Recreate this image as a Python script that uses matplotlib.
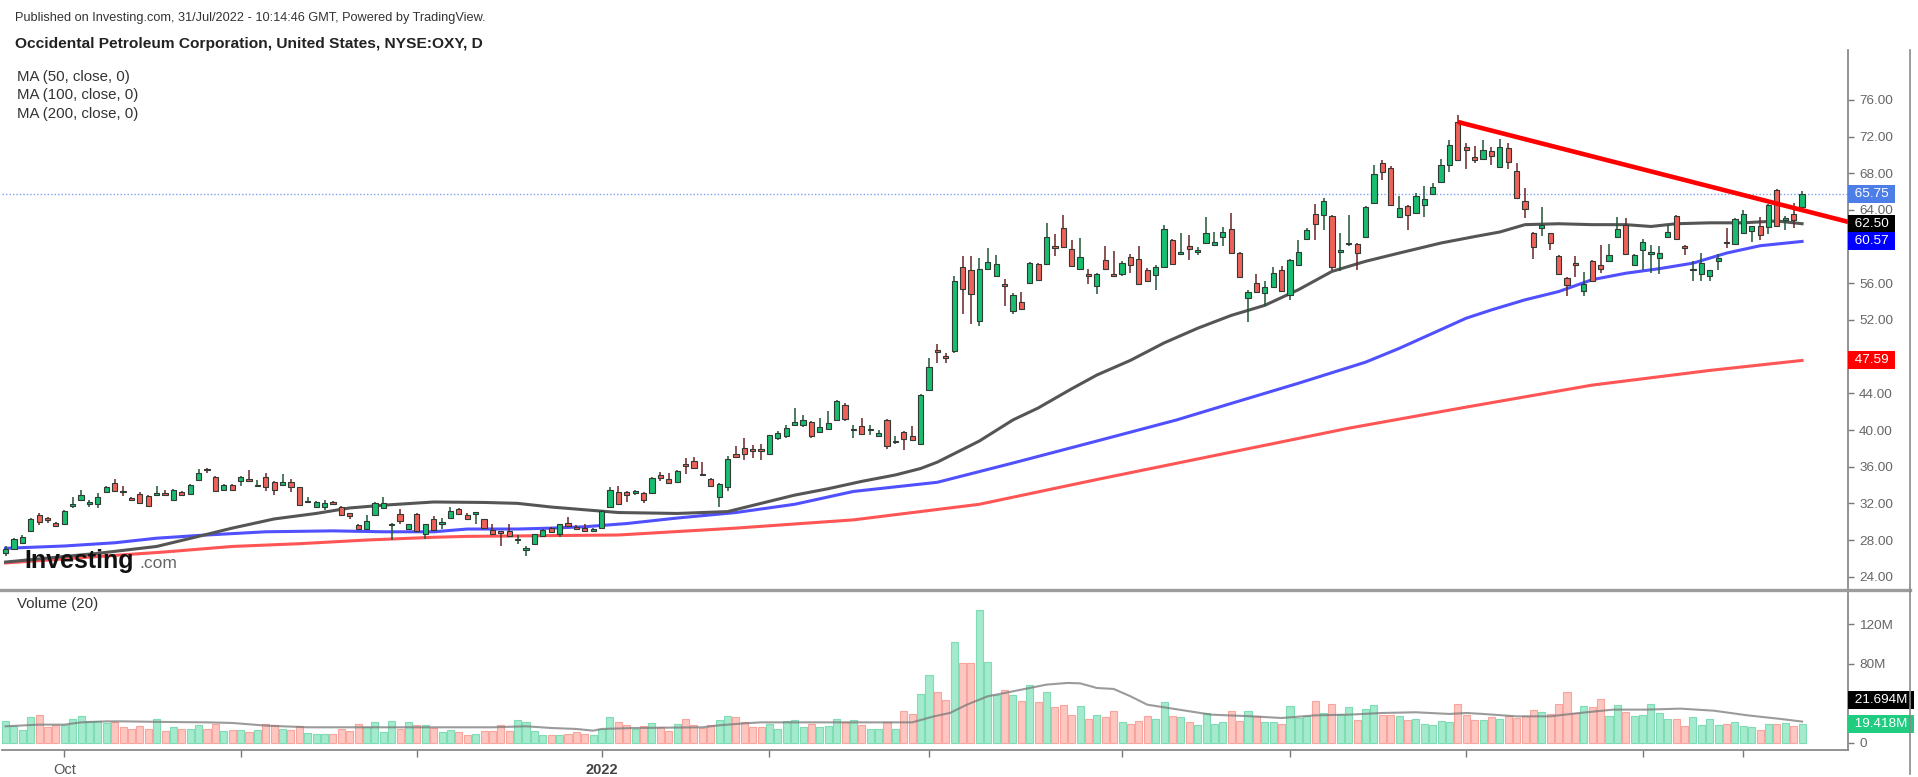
import matplotlib
matplotlib.use("Agg")
import matplotlib.pyplot as plt
from matplotlib.lines import Line2D
import matplotlib.transforms as mtransforms
import numpy as np
import pandas as pd

plt.rcParams["font.family"] = ["Liberation Sans", "DejaVu Sans"]

# ---------------- data ----------------
HOLIDAYS = ["2021-11-25", "2021-12-24", "2022-01-17", "2022-02-21",
            "2022-04-15", "2022-05-30", "2022-06-20", "2022-07-04"]
dates = pd.bdate_range("2021-09-22", "2022-07-29", freq="C", holidays=HOLIDAYS)

opens = [
    26.6, 27.0, 27.7, 29.0, 30.7, 30.3, 29.9, 29.8, 31.7, 32.4,
    31.95, 31.9, 33.2, 34.26, 33.35, 32.5, 33.0, 32.8, 32.95, 33.05,
    32.4, 33.2, 33.0, 34.6, 35.7, 34.9, 33.5, 34.0, 34.4, 34.55,
    33.85, 34.9, 34.3, 34.0, 34.3, 33.75, 32.1, 31.6, 31.6, 32.1,
    31.6, 30.9, 29.6, 29.2, 30.7, 31.5, 29.6, 30.8, 29.2, 30.8,
    28.7, 30.3, 29.75, 30.4, 31.35, 30.7, 30.85, 30.26, 29.1, 28.85,
    29.0, 27.95, 26.95, 27.6, 28.4, 29.3, 28.65, 29.9, 29.35, 29.3,
    28.95, 29.3, 31.6, 33.27, 33.27, 33.15, 33.1, 33.1, 35.05, 34.7,
    34.36, 36.15, 36.65, 35.15, 34.7, 32.7, 33.8, 37.4, 38.07, 37.8,
    37.85, 37.4, 39.1, 39.3, 40.5, 40.5, 40.9, 39.8, 40.1, 41.1,
    42.7, 39.95, 40.47, 39.95, 39.3, 41.1, 38.65, 39.8, 39.3, 38.5,
    44.4, 48.65, 47.95, 48.6, 57.8, 57.5, 51.9, 57.6, 56.8, 55.85,
    53.0, 53.96, 56.0, 58.1, 58.1, 60.1, 62.07, 59.7, 57.6, 56.95,
    55.75, 58.5, 56.95, 57.0, 58.9, 58.6, 57.5, 56.9, 57.8, 60.7,
    59.25, 60.1, 59.4, 60.4, 60.2, 61.0, 61.9, 59.3, 54.4, 56.0,
    54.9, 55.6, 57.4, 54.7, 58.0, 60.8, 63.6, 63.5, 63.3, 59.45,
    60.25, 60.3, 61.0, 64.8, 69.1, 68.6, 63.2, 64.4, 63.7, 64.5,
    65.7, 67.1, 68.9, 73.6, 70.9, 69.8, 69.6, 70.4, 68.7, 70.8,
    68.3, 65.0, 61.5, 62.0, 61.45, 59.0, 56.6, 58.15, 55.2, 58.4,
    58.0, 58.4, 61.1, 62.4, 58.0, 59.6, 59.25, 58.8, 61.0, 63.3,
    59.95, 57.4, 57.0, 56.8, 58.4, 60.45, 60.3, 61.5, 61.7, 62.2,
    62.1, 66.2, 62.95, 63.6, 64.3]
highs = [
    27.3, 28.2, 28.6, 30.4, 31.0, 30.5, 30.0, 31.3, 32.66, 33.5,
    32.4, 33.1, 33.9, 34.7, 33.9, 32.7, 33.2, 32.9, 33.9, 33.5,
    33.6, 33.4, 34.1, 35.7, 35.9, 35.0, 34.1, 34.1, 35.0, 35.6,
    34.5, 35.3, 34.4, 35.2, 34.7, 33.8, 32.7, 32.3, 32.4, 32.3,
    31.7, 31.0, 29.7, 30.7, 32.1, 32.7, 29.9, 31.4, 29.8, 30.9,
    29.8, 30.6, 30.45, 31.6, 31.5, 31.0, 31.0, 30.3, 29.8, 28.9,
    29.8, 28.55, 27.35, 28.7, 29.2, 29.4, 29.8, 30.5, 29.6, 29.8,
    29.3, 31.3, 33.8, 33.9, 33.4, 33.5, 33.2, 34.9, 35.4, 35.3,
    35.6, 36.9, 37.1, 36.5, 34.8, 34.2, 37.2, 38.3, 39.1, 38.4,
    38.5, 39.5, 39.9, 40.6, 42.4, 41.6, 41.0, 41.3, 42.1, 43.3,
    42.9, 40.5, 41.3, 40.6, 40.0, 41.2, 39.4, 39.9, 40.4, 43.9,
    47.9, 49.4, 48.4, 56.8, 59.0, 59.0, 58.8, 59.8, 59.1, 56.5,
    54.9, 55.1, 58.3, 58.2, 62.6, 61.4, 63.5, 60.7, 60.9, 57.6,
    57.1, 60.1, 59.5, 58.4, 59.2, 60.1, 57.7, 58.0, 62.4, 60.8,
    61.5, 61.3, 60.0, 63.2, 61.6, 62.1, 63.7, 59.4, 55.3, 57.0,
    56.3, 57.8, 57.9, 58.6, 60.7, 62.0, 64.7, 65.3, 63.5, 61.5,
    63.5, 60.4, 64.4, 68.9, 69.4, 68.8, 65.5, 64.5, 65.8, 66.6,
    66.9, 69.6, 71.6, 74.4, 71.3, 71.0, 71.6, 70.9, 71.7, 71.3,
    69.1, 66.4, 61.6, 64.3, 61.5, 59.1, 56.7, 59.0, 57.2, 58.5,
    60.2, 60.3, 63.2, 63.1, 59.2, 60.8, 60.2, 60.1, 62.4, 63.4,
    60.2, 58.4, 59.3, 57.5, 59.2, 62.0, 63.1, 64.0, 62.3, 63.2,
    64.7, 66.3, 63.3, 64.8, 66.1]
lows = [
    26.3, 26.9, 27.6, 28.9, 29.6, 29.9, 29.4, 29.7, 31.5, 32.3,
    31.6, 31.46, 33.1, 33.3, 32.8, 32.3, 31.9, 31.7, 32.8, 32.9,
    32.3, 32.8, 32.9, 34.5, 35.35, 33.3, 33.4, 33.3, 33.9, 34.4,
    33.8, 33.4, 32.9, 33.9, 33.2, 31.8, 32.0, 31.5, 31.3, 31.8,
    30.6, 30.25, 29.1, 29.1, 30.6, 31.4, 28.0, 29.8, 29.1, 28.9,
    28.1, 29.0, 29.2, 30.3, 30.7, 30.2, 29.8, 29.2, 28.6, 27.35,
    28.3, 27.6, 26.3, 27.5, 28.3, 28.8, 28.3, 29.4, 29.1, 28.9,
    28.9, 29.2, 31.5, 31.8, 32.2, 32.9, 32.0, 33.0, 34.4, 34.1,
    34.3, 35.2, 35.8, 35.0, 33.8, 31.6, 33.4, 37.0, 36.7, 36.9,
    36.7, 37.3, 38.9, 39.1, 40.4, 40.3, 39.1, 39.7, 40.0, 41.0,
    41.0, 39.1, 39.5, 39.5, 39.2, 37.9, 38.5, 37.8, 38.8, 38.4,
    44.3, 47.3, 47.3, 48.4, 52.7, 51.6, 51.3, 57.4, 56.7, 53.5,
    52.6, 53.1, 55.9, 56.3, 58.0, 59.0, 59.9, 57.8, 57.5, 55.9,
    54.8, 57.5, 56.7, 56.8, 57.1, 55.8, 56.2, 55.3, 57.7, 58.0,
    59.2, 58.5, 59.1, 60.3, 60.1, 60.1, 59.2, 56.6, 51.8, 54.9,
    53.5, 55.5, 55.1, 54.2, 57.9, 60.7, 60.7, 61.8, 57.4, 57.3,
    60.1, 57.5, 60.9, 64.7, 67.3, 64.4, 63.1, 61.8, 63.6, 63.2,
    65.6, 67.0, 68.1, 69.3, 68.5, 69.1, 69.5, 68.9, 68.6, 68.5,
    65.2, 63.1, 58.7, 61.2, 59.6, 56.9, 54.6, 56.65, 54.6, 56.1,
    57.1, 58.3, 61.0, 59.1, 57.9, 57.4, 57.1, 57.0, 60.9, 60.7,
    59.1, 56.3, 56.2, 56.2, 57.4, 59.8, 60.2, 61.4, 60.5, 60.7,
    61.4, 62.1, 61.8, 62.0, 64.2]
closes = [
    27.0, 28.1, 28.3, 30.3, 30.0, 30.2, 29.55, 31.2, 31.9, 32.9,
    32.05, 32.7, 33.75, 33.4, 33.2, 32.4, 32.0, 31.75, 33.05, 32.95,
    33.5, 32.9, 33.97, 35.35, 35.6, 33.4, 34.0, 33.5, 34.9, 34.45,
    33.95, 33.75, 33.5, 34.3, 33.8, 31.86, 32.25, 32.2, 32.0, 31.9,
    30.7, 30.6, 29.2, 30.1, 32.0, 32.0, 29.75, 30.1, 29.7, 29.0,
    29.7, 29.1, 29.85, 31.2, 30.8, 30.26, 30.95, 29.3, 28.7, 28.75,
    28.4, 28.05, 27.05, 28.65, 29.1, 28.9, 29.7, 29.5, 29.25, 29.0,
    29.05, 31.2, 33.45, 31.92, 32.9, 33.25, 32.4, 34.8, 34.8, 34.25,
    35.56, 36.05, 35.9, 35.05, 33.9, 34.07, 36.8, 37.1, 37.4, 37.7,
    37.75, 39.45, 39.7, 40.2, 40.9, 41.1, 39.3, 40.36, 40.8, 43.2,
    41.2, 40.05, 39.6, 40.05, 39.7, 38.3, 38.75, 39.0, 38.9, 43.8,
    46.9, 48.55, 47.85, 56.3, 55.4, 54.8, 57.6, 58.3, 58.1, 55.75,
    54.7, 53.2, 58.2, 56.4, 61.1, 59.9, 60.0, 57.9, 58.9, 56.85,
    57.0, 57.6, 56.85, 58.2, 58.0, 55.9, 56.3, 57.8, 61.96, 58.1,
    59.35, 59.7, 59.5, 61.5, 60.5, 61.6, 59.3, 56.7, 55.1, 55.0,
    55.6, 57.1, 55.2, 58.5, 59.4, 61.8, 62.5, 65.0, 57.8, 59.55,
    60.35, 59.3, 64.3, 67.9, 68.1, 64.5, 64.2, 63.5, 65.5, 65.2,
    66.5, 68.9, 71.1, 69.45, 70.5, 69.45, 70.5, 69.9, 70.9, 69.2,
    65.3, 64.1, 60.0, 62.4, 60.4, 57.0, 55.8, 58.05, 55.9, 56.2,
    57.6, 59.1, 61.9, 59.2, 59.1, 60.5, 59.35, 59.35, 61.6, 60.8,
    59.85, 57.5, 58.2, 57.4, 58.8, 60.35, 63.0, 63.6, 62.2, 61.3,
    64.5, 62.2, 63.05, 62.9, 65.75]
volume_m = [
    22.6, 16.9, 13.5, 26.0, 28.7, 15.9, 18.6, 17.9, 24.6, 27.0,
    22.6, 22.6, 20.3, 20.9, 15.9, 14.2, 16.9, 14.5, 24.6, 12.5,
    15.9, 14.5, 14.5, 17.9, 14.5, 19.6, 11.8, 13.5, 12.8, 10.8,
    13.2, 19.6, 17.9, 14.5, 13.2, 16.9, 10.5, 9.1, 9.1, 9.1,
    14.5, 11.8, 19.6, 15.9, 20.9, 10.8, 22.6, 14.5, 20.9, 17.9,
    17.9, 15.2, 10.8, 12.8, 10.8, 7.8, 9.1, 11.8, 12.5, 18.6,
    11.8, 23.6, 20.9, 11.8, 7.8, 7.8, 7.8, 9.1, 10.8, 9.5,
    7.8, 14.2, 26.0, 20.9, 18.6, 14.5, 16.9, 20.3, 15.9, 12.5,
    19.2, 24.6, 18.6, 15.2, 17.9, 23.6, 27.0, 26.0, 20.9, 15.9,
    15.9, 19.6, 14.2, 21.9, 23.6, 15.9, 19.6, 15.9, 16.9, 24.6,
    20.9, 23.6, 17.9, 14.2, 14.2, 20.9, 14.2, 32.1, 29.7, 50.0,
    69.2, 51.3, 43.9, 102.3, 81.0, 81.0, 134.4, 81.7, 49.0, 54.0,
    49.0, 42.9, 58.7, 41.5, 51.3, 36.1, 38.8, 28.7, 37.1, 24.6,
    28.4, 26.0, 32.1, 20.9, 19.6, 22.6, 27.0, 24.6, 41.5, 27.3,
    26.0, 20.9, 18.6, 30.7, 19.6, 20.9, 32.1, 22.6, 32.1, 27.0,
    20.9, 20.9, 19.6, 37.1, 25.3, 27.0, 42.9, 30.4, 39.5, 29.4,
    36.1, 23.6, 34.8, 38.1, 28.0, 28.0, 27.0, 23.6, 24.6, 19.2,
    17.9, 21.9, 20.9, 39.5, 28.7, 23.6, 23.6, 26.0, 24.6, 27.0,
    25.3, 27.0, 33.8, 31.1, 29.7, 39.8, 51.3, 30.4, 37.1, 36.1,
    44.9, 27.0, 38.1, 31.1, 27.0, 28.7, 39.5, 30.7, 24.6, 24.6,
    16.9, 26.0, 17.9, 24.6, 17.9, 19.2, 20.9, 16.9, 15.9, 13.2,
    19.2, 19.2, 20.0, 17.0, 19.418]

# moving averages (bar index, value)
ma50_idx = [0, 11, 18, 23, 27, 32, 37, 41, 45, 51, 57, 61, 65, 69, 73, 80, 86,
            90, 94, 98, 102, 106, 109, 111, 116, 120, 123, 127, 130, 134, 138,
            142, 146, 150, 154, 158, 162, 166, 171, 175, 178, 181, 185, 189,
            193, 196, 199, 203, 207, 211, 214]
ma50_val = [25.6, 26.55, 27.3, 28.4, 29.3, 30.3, 30.9, 31.5, 31.8, 32.15, 32.1,
            32.0, 31.6, 31.3, 31.0, 30.9, 31.1, 32.0, 32.9, 33.6, 34.4, 35.1,
            35.8, 36.5, 38.8, 41.1, 42.4, 44.5, 46.0, 47.6, 49.5, 51.1, 52.5,
            53.6, 55.3, 57.3, 58.4, 59.3, 60.4, 61.1, 61.6, 62.4, 62.5, 62.4,
            62.4, 62.2, 62.5, 62.6, 62.6, 62.8, 62.5]
ma100_idx = [0, 7, 13, 18, 23, 31, 39, 45, 51, 55, 61, 65, 69, 74, 80, 87, 94,
             101, 106, 111, 120, 130, 139.5, 146, 154, 162, 166, 174, 177, 181,
             185, 189, 193, 197, 201, 205, 209, 214]
ma100_val = [27.1, 27.35, 27.7, 28.2, 28.5, 28.9, 29.0, 28.9, 28.9, 29.2, 29.2,
             29.3, 29.45, 29.8, 30.4, 31.0, 31.9, 33.3, 33.8, 34.3, 36.4, 38.8,
             41.1, 42.9, 45.1, 47.4, 48.9, 52.2, 53.1, 54.2, 55.1, 56.4, 57.1,
             57.6, 58.2, 59.3, 60.1, 60.57]
ma200_idx = [0, 11, 19, 27, 35, 43, 51, 55, 73, 87, 101, 116, 130, 145, 160,
             174, 189, 203, 214]
ma200_val = [25.5, 26.2, 26.7, 27.3, 27.6, 28.0, 28.3, 28.4, 28.55, 29.3, 30.2,
             31.9, 34.6, 37.4, 40.2, 42.5, 44.9, 46.5, 47.59]
vma_idx = [0, 4, 7, 9, 12, 14, 19, 24, 27, 31, 36, 43, 48, 53, 58, 62, 65, 68,
           70, 71, 75, 83, 85, 88, 90, 95, 100, 105, 108, 110.6, 112.5, 114.5,
           117, 119, 122, 124, 126.5, 128, 130, 132, 134, 136, 139, 143.6,
           148.5, 152, 156, 160, 164, 168, 172, 174, 176, 180, 184, 187.5,
           191.5, 195.5, 199.5, 203.5, 207.5, 211.5, 214]
vma_val = [16.9, 18.6, 18.6, 20.9, 21.9, 21.9, 21.3, 20.9, 20.3, 17.6, 15.9,
           15.9, 15.9, 15.9, 15.9, 16.9, 15.2, 14.2, 12.5, 14.2, 15.2, 15.9,
           17.9, 19.9, 20.9, 20.9, 20.9, 20.9, 20.9, 27.0, 30.4, 38.8, 47.3,
           50.6, 55.7, 59.1, 60.8, 60.4, 55.7, 54.7, 47.3, 38.8, 34.8, 28.7,
           27.0, 25.3, 28.0, 28.7, 30.4, 31.1, 29.4, 30.4, 29.4, 27.0, 27.0,
           30.4, 33.8, 33.8, 34.8, 32.7, 28.0, 24.3, 21.694]

trend_idx = [173, 219.5]
trend_val = [73.6, 62.7]

price_ticks = list(range(24, 77, 4))
price_hidden = [48, 60]          # covered by value tags in the reference
vol_ticks = [0, 40, 80, 120]
vol_tick_labels = ["0", "", "80M", "120M"]

# ---------------- figure ----------------
W, H = 1918, 777
fig = plt.figure(figsize=(W / 100, H / 100), dpi=100)
fig.patch.set_facecolor("white")


def fx(px):
    return px / W


def fy(py):
    return 1 - py / H


X0, X1 = 2, 1848
ax = fig.add_axes([fx(X0), fy(590), fx(X1 - X0), (590 - 50) / H])
axv = fig.add_axes([fx(X0), fy(750), fx(X1 - X0), (750 - 590) / H], sharex=ax)

o = np.array(opens)
h = np.array(highs)
l = np.array(lows)
c = np.array(closes)
v = np.array(volume_m)
x = np.arange(len(c))
up = c >= o

GREEN, RED = "#18bd6f", "#ef6158"
ax.vlines(x, l, h, colors=np.where(up, "#1f5537", "#6a2424"), linewidth=1.1, zorder=3)
body_lo = np.minimum(o, c)
body_h = np.maximum(np.abs(c - o), 0.2)
ax.bar(x, body_h, bottom=body_lo, width=0.62, color=np.where(up, GREEN, RED),
       edgecolor="#2e3a33", linewidth=0.8, zorder=4)

ax.plot(ma200_idx, ma200_val, color="#ff5555", linewidth=2.2, zorder=2)
ax.plot(ma100_idx, ma100_val, color="#5050ff", linewidth=2.2, zorder=2)
ax.plot(ma50_idx, ma50_val, color="#555555", linewidth=2.2, zorder=2)
ax.plot(trend_idx, trend_val, color="#ff0000", linewidth=3.3,
        solid_capstyle="butt", zorder=6, clip_on=False)
ax.axhline(closes[-1], color="#7f9ff0", linewidth=1.0, linestyle=(0, (1, 1.5)), zorder=1)

ax.set_xlim(-0.42, 219.47)
ax.set_ylim(22.55, 81.45)
ax.set_yticks(price_ticks)
ax.set_yticklabels(["" if t in price_hidden else f"{t:.2f}" for t in price_ticks])
ax.yaxis.tick_right()
ax.tick_params(axis="y", direction="out", length=4, width=1, color="#777777",
               labelsize=9.7, labelcolor="#666666", pad=4)
ax.tick_params(axis="x", bottom=False, labelbottom=False)
for s in ["top", "left", "bottom"]:
    ax.spines[s].set_visible(False)
ax.spines["right"].set_color("#8a8a8a")
ax.spines["right"].set_linewidth(1.3)

# volume panel
axv.bar(x, v, width=0.84, color=np.where(up, "#a4eacd", "#fec6c0"),
        edgecolor=np.where(up, "#7fdcb5", "#f7a59d"), linewidth=0.8, zorder=2)
axv.plot(vma_idx, vma_val, color="#7a7a7a", alpha=0.75, linewidth=1.5, zorder=3)
axv.set_ylim(-7.09, 154.9)
axv.set_yticks(vol_ticks)
axv.set_yticklabels(vol_tick_labels)
axv.yaxis.tick_right()
axv.tick_params(axis="y", direction="out", length=4, width=1, color="#777777",
                labelsize=9.7, labelcolor="#666666", pad=4)
for s in ["top", "left"]:
    axv.spines[s].set_visible(False)
for s in ["right", "bottom"]:
    axv.spines[s].set_color("#8a8a8a")
    axv.spines[s].set_linewidth(1.3)

month_pos = [i for i in range(1, len(dates)) if dates[i].month != dates[i - 1].month]
extra_pos = [dates.get_loc(pd.Timestamp("2022-07-20"))]
tick_pos = month_pos + extra_pos
tick_lab = []
for i in tick_pos:
    d = dates[i]
    if d.month == 10:
        tick_lab.append("Oct")
    elif d.month == 1:
        tick_lab.append("2022")
    else:
        tick_lab.append("")
axv.set_xticks(tick_pos)
axv.set_xticklabels(tick_lab)
axv.tick_params(axis="x", direction="out", length=5, width=1, color="#777777",
                labelsize=10.5, labelcolor="#555555", pad=4)
for lab in axv.get_xticklabels():
    if lab.get_text() == "2022":
        lab.set_fontweight("bold")
        lab.set_color("#444444")


# last-value labels on the right axis
def value_tag(axis, y, text, fc, dy=0):
    tr = mtransforms.offset_copy(
        mtransforms.blended_transform_factory(axis.transAxes, axis.transData),
        fig=fig, x=0, y=dy, units="dots")
    axis.text(1.0015, y, " " + text + " ", transform=tr, ha="left", va="center",
              fontsize=9.7, color="white", clip_on=False, zorder=10,
              bbox=dict(boxstyle="square,pad=0.22", fc=fc, ec="none"))


value_tag(ax, closes[-1], f"{closes[-1]:.2f}", "#4d7de6")
value_tag(ax, ma50_val[-1], f"{ma50_val[-1]:.2f}", "#000000")
value_tag(ax, ma100_val[-1], f"{ma100_val[-1]:.2f}", "#0000ff")
value_tag(ax, ma200_val[-1], f"{ma200_val[-1]:.2f}", "#ff0000")
value_tag(axv, vma_val[-1], f"{vma_val[-1]:.3f}M", "#000000", dy=22)
value_tag(axv, volume_m[-1], f"{volume_m[-1]:.3f}M", "#1fcc80")

# frame lines
fig.add_artist(Line2D([0, fx(1910)], [fy(590), fy(590)], color="#9c9c9c", linewidth=2.4))
fig.add_artist(Line2D([fx(1910), fx(1910)], [fy(50), fy(774)], color="#8a8a8a", linewidth=1.2))

# header texts
fig.text(fx(15), fy(18), "Published on Investing.com, 31/Jul/2022 - 10:14:46 GMT, Powered by TradingView.",
         fontsize=9.2, color="#333333", va="center", ha="left")
fig.text(fx(15), fy(44), "Occidental Petroleum Corporation, United States, NYSE:OXY, D",
         fontsize=11.15, color="#222222", va="center", ha="left", fontweight="bold")
for k, lab in enumerate(["MA (50, close, 0)", "MA (100, close, 0)", "MA (200, close, 0)"]):
    fig.text(fx(17), fy(77 + 18.5 * k), lab, fontsize=10.8, color="#333333", va="center", ha="left")
fig.text(fx(17), fy(604), "Volume (20)", fontsize=10.8, color="#333333", va="center", ha="left")

# watermark logo
fig.text(fx(24), fy(568), "Investing", fontsize=18, fontweight="bold", color="#111111",
         va="baseline", ha="left", zorder=20)
fig.text(fx(139), fy(568), ".com", fontsize=12.5, color="#666666",
         va="baseline", ha="left", zorder=20)

fig.savefig("out.png", dpi=100, facecolor="white")
